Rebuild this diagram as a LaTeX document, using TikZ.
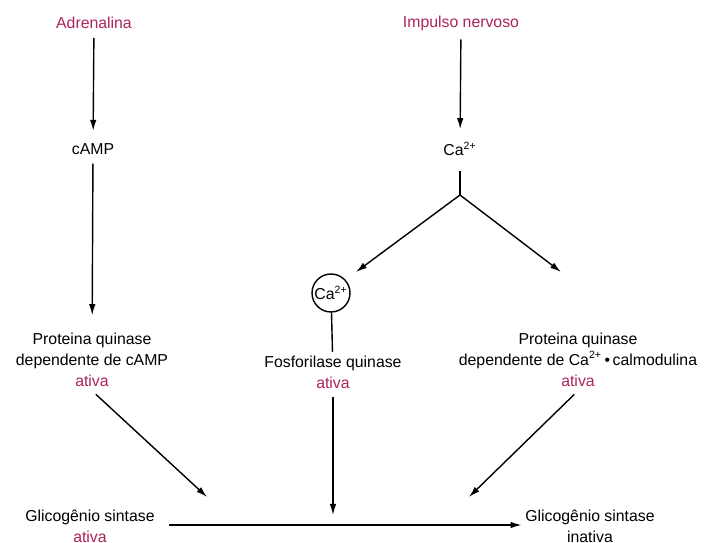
\documentclass[tikz,border=0pt]{standalone}
\usepackage{fontspec}
\setmainfont{Liberation Sans}
\usetikzlibrary{arrows.meta, positioning, calc}
\definecolor{signal}{RGB}{172,34,92}

\begin{document}
\begin{tikzpicture}[
    x=0.02cm, y=-0.02cm,
    txt/.style={align=center, font=\fontsize{9}{12}\selectfont, inner sep=2pt},
    arrow/.style={-{Latex[length=2.2mm, width=1.3mm]}, line width=0.8pt, shorten <=3pt},
    link/.style={line width=0.8pt}
]
\useasboundingbox (0,0) rectangle (707,543);

% sinais de entrada
\node[txt, text=signal] (adren) at (94,23) {Adrenalina};
\node[txt, text=signal] (impulso) at (461,23) {Impulso nervoso};
\node[txt] (camp) at (93,149) {cAMP};
\node[txt] (ca) at (460,149) {Ca\textsuperscript{2+}};

% enzimas ativas
\node[txt] (protL) at (92,360) {Proteina quinase\\dependente de cAMP\\\textcolor{signal}{ativa}};
\node[circle, draw, link, inner sep=0pt, minimum size=0.76cm, font=\fontsize{9}{12}\selectfont] (cacirc) at (331,293) {Ca\textsuperscript{2+}};
\node[txt] (fosfo) at (333,372) {Fosforilase quinase\\\textcolor{signal}{ativa}};
\node[txt] (protR) at (578,360) {Proteina quinase\\dependente de Ca\textsuperscript{2+}\,•\,calmodulina\\\textcolor{signal}{ativa}};

% glicogenio sintase
\node[txt] (gsa) at (90,526) {Glicogênio sintase\\\textcolor{signal}{ativa}};
\node[txt] (gsi) at (590,526) {Glicogênio sintase\\inativa};

\coordinate (split) at (460,195);
\coordinate (tipC) at (356,272);
\coordinate (tipR) at (561,272);
\coordinate (tipL) at (207,497);
\coordinate (tipM) at (333,515);
\coordinate (tipRR) at (469,497);

\draw[arrow, shorten >=5pt] (adren) -- (camp);
\draw[arrow, shorten >=5pt] (impulso) -- (ca);
\draw[arrow, shorten >=8pt] (camp) -- (protL);
\draw[link, shorten <=6pt] (ca) -- (split);
\draw[arrow, shorten <=0pt] (split) -- (tipC);
\draw[arrow, shorten <=0pt] (split) -- (tipR);
\draw[link] (cacirc) -- (fosfo);
\draw[arrow] (protL.south) -- (tipL);
\draw[arrow] (fosfo) -- (tipM);
\draw[arrow] (protR.south) -- (tipRR);
\draw[arrow, shorten <=6pt] (gsa.east |- 0,525) -- (gsi.west |- 0,525);

\end{tikzpicture}
\end{document}
